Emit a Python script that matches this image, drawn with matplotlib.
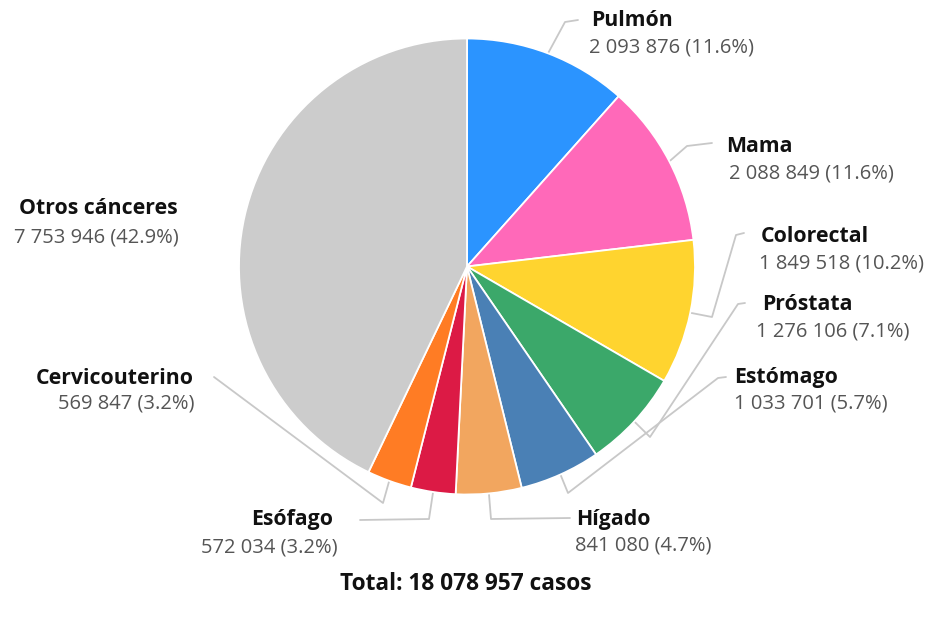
import numpy as np
import matplotlib
matplotlib.use("Agg")
import matplotlib.pyplot as plt

# Cancer incidence by site (cases)
categories = ["Pulmón", "Mama", "Colorectal", "Próstata", "Estómago",
              "Hígado", "Esófago", "Cervicouterino", "Otros cánceres"]
cases = [2093876, 2088849, 1849518, 1276106, 1033701,
         841080, 572034, 569847, 7753946]
colors = ["#2B94FF", "#FF69B9", "#FFD42F", "#3BA86A", "#4A80B5",
          "#F2A65F", "#DC1A45", "#FF7C24", "#CCCCCC"]

W, H = 927, 626
CX, CY, R = 467, 266.5, 228

# label anchor (pixel coords, y down): name pos, value pos, alignment
label_layout = {
    "Pulmón":         ((591, 20), (589, 47), "left"),
    "Mama":           ((726, 146), (729, 173), "left"),
    "Colorectal":     ((761, 236), (759, 263), "left"),
    "Próstata":       ((762, 304), (756, 331), "left"),
    "Estómago":       ((734, 378), (734, 404), "left"),
    "Hígado":         ((576, 519), (575, 546), "left"),
    "Esófago":        ((333, 520), (338, 547), "right"),
    "Cervicouterino": ((194, 378), (195, 404), "right"),
    "Otros cánceres": ((178, 208), (179, 238), "right"),
}

# connector bend points after leaving the slice edge (pixel coords, y down)
connector_path = {
    "Pulmón":         [(565, 22), (578, 20)],
    "Mama":           [(687, 146), (712, 143)],
    "Colorectal":     [(712, 317), (736, 235), (744, 233)],
    "Próstata":       [(650, 437), (738, 304), (745, 303)],
    "Estómago":       [(568, 493), (718, 378), (726, 377)],
    "Hígado":         [(491, 519), (570, 518)],
    "Esófago":        [(429, 519), (360, 520)],
    "Cervicouterino": [(383, 503), (214, 377)],
}

plt.rcParams["font.family"] = ["Open Sans", "DejaVu Sans"]

fig = plt.figure(figsize=(W / 100, H / 100), dpi=100)
ax = fig.add_axes([0, 0, 1, 1])


def P(x, y):
    return x, H - y


wedges, _ = ax.pie(cases, colors=colors, startangle=90, counterclock=False,
                   radius=R, center=P(CX, CY),
                   wedgeprops=dict(edgecolor="white", linewidth=1.3))
ax.set_xlim(0, W)
ax.set_ylim(0, H)
ax.set_aspect("equal")
ax.axis("off")

total = sum(cases)

for wedge, name, val in zip(wedges, categories, cases):
    mid = np.deg2rad((wedge.theta1 + wedge.theta2) / 2)
    ex = CX + (R + 1) * np.cos(mid)
    ey = CY - (R + 1) * np.sin(mid)
    if name in connector_path:
        pts = [(ex, ey)] + connector_path[name]
        xs = [p[0] for p in pts]
        ys = [H - p[1] for p in pts]
        ax.plot(xs, ys, color="#C8C8C8", lw=1.3, solid_capstyle="round",
                solid_joinstyle="round", zorder=0)
    (nx, ny), (vx, vy), ha = label_layout[name]
    ax.text(*P(nx, ny), name, ha=ha, va="center", fontsize=15.3,
            fontweight="bold", color="#111111")
    value_txt = f"{val:,}".replace(",", " ") + f" ({val / total * 100:.1f}%)"
    ax.text(*P(vx, vy), value_txt, ha=ha, va="center", fontsize=14.5,
            color="#555555")

total_txt = "Total: " + f"{total:,}".replace(",", " ") + " casos"
ax.text(*P(466, 584), total_txt, ha="center", va="center", fontsize=16.3,
        fontweight="bold", color="#111111")

fig.savefig("out.png", dpi=100, facecolor="white")
